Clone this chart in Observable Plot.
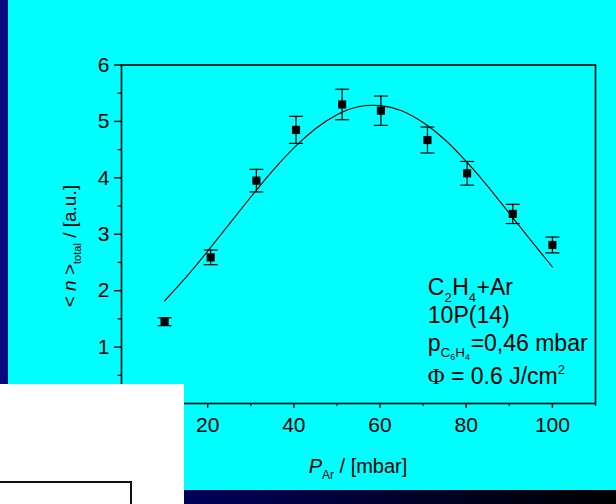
<!DOCTYPE html>
<html>
<head>
<meta charset="utf-8">
<script src="https://cdn.jsdelivr.net/npm/d3@7"></script>
<script src="https://cdn.jsdelivr.net/npm/@observablehq/plot@0.6"></script>
<style>
html, body { margin: 0; padding: 0; background: #00ffff; }
#wrap { position: relative; width: 616px; height: 504px; overflow: hidden; background: #00ffff; font-family: "Liberation Sans", Arial, sans-serif; }
#leftstrip { position: absolute; left: 0; top: 0; width: 8px; height: 504px; background: #080880; }
#bottomstrip { position: absolute; left: 0; top: 490px; width: 616px; height: 14px; background: linear-gradient(to right, #000080, #000000); }
#chart { position: absolute; left: 0; top: 0; }
#white { position: absolute; left: 0; top: 384px; width: 184px; height: 120px; background: #ffffff; }
#box { position: absolute; left: -2px; top: 97px; width: 130px; height: 60px; border: 2px solid #111; }
</style>
</head>
<body>
<div id="wrap">
  <div id="leftstrip"></div>
  <div id="bottomstrip"></div>
  <div id="chart"></div>
  <div id="white"><div id="box"></div></div>
</div>
<script>
// measured points: Ar pressure (mbar), <n>_total (a.u.), error
const pressure = [10.0, 20.7, 31.3, 40.5, 51.2, 60.2, 71.0, 80.2, 90.8, 100.0];
const nTotal   = [1.45, 2.59, 3.95, 4.85, 5.30, 5.19, 4.67, 4.08, 3.36, 2.81];
const nError   = [0.07, 0.13, 0.20, 0.24, 0.27, 0.26, 0.23, 0.21, 0.17, 0.14];

// fitted curve
const fitX = [10, 15, 20, 25, 30, 35, 40, 45, 50, 55, 60, 65, 70, 75, 80, 85, 90, 95, 100];
const fitY = [1.82, 2.24, 2.70, 3.18, 3.66, 4.12, 4.53, 4.87, 5.12, 5.26, 5.28, 5.19, 4.98, 4.68, 4.29, 3.85, 3.37, 2.89, 2.42];

const xTicks = [0, 20, 40, 60, 80, 100];
const xMinor = [10, 30, 50, 70, 90, 110];
const yTicks = [0, 1, 2, 3, 4, 5, 6];
const yMinor = [0.5, 1.5, 2.5, 3.5, 4.5, 5.5];

const points = pressure.map((p, i) => ({x: p, y: nTotal[i], e: nError[i]}));
const fit = fitX.map((x, i) => ({x, y: fitY[i]}));

const capSymbol = {
  draw(context) { context.moveTo(-7, 0); context.lineTo(7, 0); }
};

const plot = Plot.plot({
  width: 616,
  height: 504,
  marginLeft: 121,
  marginRight: 21,
  marginTop: 64.5,
  marginBottom: 101,
  style: {background: "transparent", fontFamily: "'Liberation Sans', Arial, sans-serif", fontSize: "21px", color: "black", overflow: "visible"},
  x: {domain: [0, 110]},
  y: {domain: [0, 6]},
  marks: [
    Plot.axisX(xTicks, {tickSize: 5, tickPadding: 9, label: null, tickFormat: d => String(d), stroke: "black", strokeWidth: 1.4}),
    Plot.axisX(xMinor, {tickSize: 3, tickFormat: () => "", label: null, stroke: "black", strokeWidth: 1.2}),
    Plot.axisY(yTicks, {tickSize: 7, tickPadding: 5, label: null, tickFormat: d => String(d), stroke: "black", strokeWidth: 1.4}),
    Plot.axisY(yMinor, {tickSize: 3.5, tickFormat: () => "", label: null, stroke: "black", strokeWidth: 1.2}),
    Plot.frame({stroke: "black", strokeWidth: 1.6}),
    Plot.line(fit, {x: "x", y: "y", curve: "natural", stroke: "black", strokeWidth: 1.1}),
    Plot.ruleX(points, {x: "x", y1: d => d.y - d.e, y2: d => d.y + d.e, stroke: "black", strokeWidth: 1.2}),
    Plot.dot(points, {x: "x", y: d => d.y - d.e, symbol: capSymbol, stroke: "black", strokeWidth: 1.2, r: 4}),
    Plot.dot(points, {x: "x", y: d => d.y + d.e, symbol: capSymbol, stroke: "black", strokeWidth: 1.2, r: 4}),
    Plot.dot(points, {x: "x", y: "y", symbol: "square", fill: "black", stroke: "none", r: 4.6})
  ]
});

document.getElementById("chart").appendChild(plot);

const svg = d3.select(plot);
const sx = plot.scale("x"), sy = plot.scale("y");
const font = "'Liberation Sans', Arial, sans-serif";

function addLine(x, y, parts, size, anchor, extra) {
  const t = svg.append("text")
    .attr("x", x).attr("y", y)
    .attr("font-family", font)
    .attr("font-size", size)
    .attr("text-anchor", anchor)
    .attr("fill", "black");
  if (extra) extra(t);
  let shift = 0;
  parts.forEach(p => {
    const target = p.dy || 0;
    const ts = t.append("tspan").text(p.t).attr("dy", target - shift);
    shift = target;
    if (p.dx) ts.attr("dx", p.dx);
    if (p.size) ts.attr("font-size", p.size);
    if (p.italic) ts.attr("font-style", "italic");
    if (p.family) ts.attr("font-family", p.family);
  });
  return t;
}

// annotation block
const ax = sx.apply(71.2);
addLine(ax, sy.apply(1.91), [
  {t: "C"}, {t: "2", size: 13, dy: 7}, {t: "H", dx: 0.5}, {t: "4", size: 13, dy: 7}, {t: "+Ar", dx: 0.5}
], 23, "start");
addLine(ax, sy.apply(1.415), [{t: "10P(14)"}], 23, "start");
addLine(ax, sy.apply(0.92), [
  {t: "p"}, {t: "C", size: 13.5, dy: 6}, {t: "6", size: 9, dy: 9}, {t: "H", size: 13.5, dy: 6}, {t: "4", size: 9, dy: 9}, {t: "=0,46 mbar", dx: 0.5}
], 23, "start");
addLine(ax, sy.apply(0.335), [
  {t: "Φ", family: "'Liberation Serif', 'Times New Roman', serif"}, {t: " = 0.6 J/cm"}, {t: "2", size: 13, dy: -10}
], 23, "start");

// x axis label
addLine((sx.apply(0) + sx.apply(110)) / 2, sy.apply(0) + 70, [
  {t: "P", italic: true}, {t: "Ar", size: 12, dy: 6}, {t: " / [mbar]"}
], 20, "middle");

// y axis label
const lx = 76, ly = sy.apply(2.78);
addLine(lx, ly, [
  {t: "< "}, {t: "n", italic: true}, {t: " >"}, {t: "total", size: 11, dy: 5}, {t: " / [a.u.]"}
], 19, "middle", t => t.attr("transform", `rotate(-90, ${lx}, ${ly})`));
</script>
</body>
</html>
